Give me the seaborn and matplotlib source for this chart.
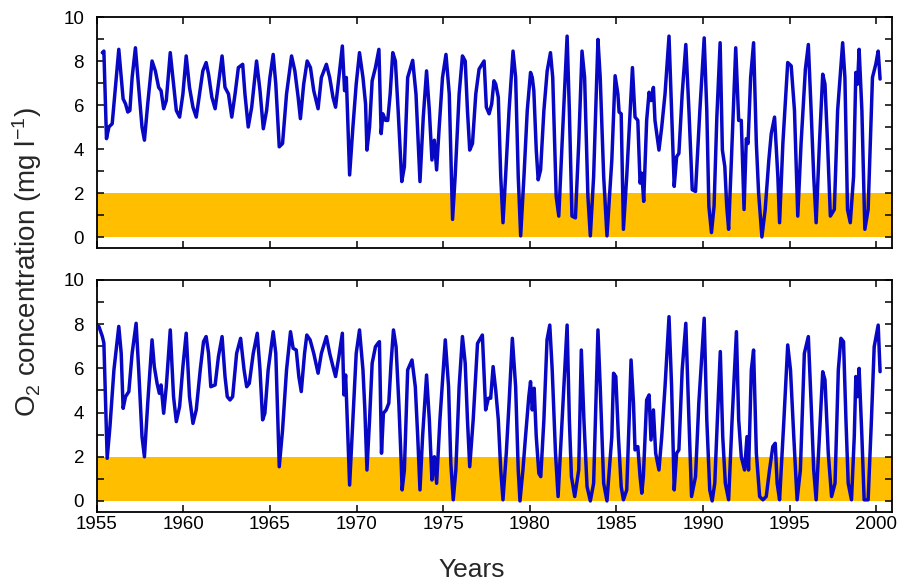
import matplotlib
matplotlib.use("Agg")
import matplotlib.pyplot as plt
import seaborn as sns
import pandas as pd
from matplotlib.ticker import MultipleLocator

# ---------------- data ----------------
top_years = [
    1955.33, 1955.42, 1955.57, 1955.71, 1955.90, 1956.15, 1956.28, 1956.42, 1956.53, 1956.67, 1956.80, 1956.92,
    1957.05, 1957.24, 1957.38, 1957.62, 1957.76, 1957.95, 1958.20, 1958.39, 1958.58, 1958.72, 1958.87,
    1959.02, 1959.25, 1959.44, 1959.60, 1959.79, 1959.98, 1960.17, 1960.36, 1960.56, 1960.75, 1960.94,
    1961.13, 1961.32, 1961.46, 1961.65, 1961.84, 1962.03, 1962.24, 1962.41, 1962.61, 1962.80, 1962.99,
    1963.18, 1963.43, 1963.56, 1963.75, 1963.95, 1964.23, 1964.43, 1964.62, 1964.81, 1965.00, 1965.19,
    1965.34, 1965.54, 1965.73, 1965.96, 1966.25, 1966.44, 1966.63, 1966.76, 1966.95, 1967.15, 1967.34,
    1967.53, 1967.78, 1967.97, 1968.26, 1968.45, 1968.64, 1968.79, 1968.98, 1969.18, 1969.31, 1969.41, 1969.60,
    1969.79, 1969.98, 1970.17, 1970.37, 1970.52, 1970.60, 1970.75, 1970.90, 1971.09, 1971.29, 1971.42, 1971.52, 1971.67, 1971.80, 1971.94,
    1972.09, 1972.24, 1972.40, 1972.61, 1972.76, 1972.95, 1973.24, 1973.43, 1973.66, 1973.85, 1974.04, 1974.20, 1974.35, 1974.49, 1974.62, 1974.77, 1974.96,
    1975.16, 1975.35, 1975.54, 1975.69, 1975.92, 1976.11, 1976.27, 1976.40, 1976.53, 1976.69, 1976.88, 1977.07, 1977.36, 1977.49, 1977.65, 1977.80, 1977.93,
    1978.03, 1978.18, 1978.32, 1978.45, 1978.60, 1978.80, 1979.03, 1979.18, 1979.33, 1979.47, 1979.66, 1979.85, 1980.04, 1980.14, 1980.23, 1980.37, 1980.48, 1980.62, 1980.81,
    1981.00, 1981.19, 1981.32, 1981.52, 1981.67, 1981.86, 1982.15, 1982.28, 1982.43, 1982.63, 1982.82, 1983.01, 1983.16, 1983.35, 1983.49, 1983.68, 1983.93,
    1984.06, 1984.26, 1984.45,
    1984.73, 1984.92, 1985.08, 1985.15, 1985.27, 1985.40, 1985.59, 1985.79, 1985.92, 1986.07, 1986.23, 1986.36, 1986.46, 1986.57, 1986.74, 1986.88, 1986.99,
    1987.13, 1987.22, 1987.45, 1987.61, 1987.80, 1988.03, 1988.18, 1988.33, 1988.47, 1988.60, 1988.79, 1989.00, 1989.18, 1989.37, 1989.56, 1989.81,
    1990.06, 1990.21, 1990.33, 1990.48, 1990.63, 1990.79, 1990.98, 1991.11, 1991.25, 1991.36, 1991.47, 1991.63, 1991.88, 1992.05, 1992.20, 1992.36, 1992.49, 1992.59, 1992.74, 1992.91,
    1993.07, 1993.20, 1993.39, 1993.58, 1993.79, 1993.93, 1994.12, 1994.31, 1994.41, 1994.60, 1994.88, 1995.08, 1995.27, 1995.46, 1995.65, 1995.90,
    1996.07, 1996.23, 1996.38, 1996.52, 1996.71, 1996.90, 1997.03, 1997.18, 1997.34, 1997.57, 1997.76, 1998.05, 1998.18, 1998.33, 1998.49, 1998.68, 1998.81, 1998.91,
    1999.00, 1999.16, 1999.33, 1999.52, 1999.77, 1999.96, 2000.10, 2000.21,
]
top_o2 = [
    8.38, 8.45, 4.47, 5.00, 5.15, 7.40, 8.53, 7.25, 6.28, 6.05, 5.68, 5.75,
    7.25, 8.60, 7.25, 5.00, 4.40, 6.05, 8.00, 7.55, 6.80, 6.65, 5.83,
    6.20, 8.38, 6.95, 5.75, 5.45, 6.50, 8.23, 6.80, 5.90, 5.45, 6.50,
    7.55, 7.93, 7.40, 6.35, 5.83, 6.95, 8.23, 6.80, 6.50, 5.45, 6.50,
    7.70, 7.85, 6.50, 5.00, 5.90, 8.00, 6.65, 4.92, 5.75, 7.25, 8.30,
    6.95, 4.10, 4.25, 6.50, 8.23, 7.55, 6.35, 5.38, 6.95, 8.00, 7.70,
    6.65, 5.83, 7.25, 7.85, 7.25, 6.35, 5.90, 7.25, 8.68, 6.65, 7.25, 2.82,
    5.00, 6.95, 8.38, 7.25, 6.05, 3.95, 5.00, 7.10, 7.70, 8.53, 4.70, 5.60, 5.30, 5.30, 6.50,
    8.38, 8.00, 5.75, 2.52, 3.20, 7.25, 8.03, 6.50, 2.52, 5.45, 7.55, 5.75, 3.50, 4.40, 3.05, 5.00, 7.25,
    8.30, 6.50, 0.80, 2.75, 6.50, 8.23, 8.00, 5.75, 3.95, 4.25, 6.50, 7.63, 8.00, 5.90, 5.60, 6.05, 7.10,
    6.95, 6.35, 2.75, 0.65, 2.75, 5.75, 8.45, 7.25, 2.75, 0.05, 2.75, 5.75, 7.48, 7.25, 6.65, 3.95, 2.60, 3.05, 5.75,
    7.55, 8.38, 7.25, 1.85, 0.95, 4.25, 9.13, 5.75, 0.95, 0.87, 4.25, 8.45, 7.25, 1.85, 0.05, 2.75, 8.98,
    7.25, 2.75, 0.05,
    3.50, 7.33, 6.50, 5.68, 5.60, 0.35, 2.75, 5.75, 7.70, 5.45, 5.30, 2.45, 2.90, 1.62, 5.30, 6.58, 6.20,
    6.80, 5.30, 3.95, 5.00, 6.50, 9.13, 5.75, 2.30, 3.65, 3.80, 6.50, 8.75, 5.75, 2.15, 2.07, 5.75,
    9.05, 5.75, 1.40, 0.20, 1.40, 5.45, 8.83, 3.95, 3.20, 1.40, 0.35, 3.50, 8.60, 5.30, 5.30, 1.25, 4.47, 4.25, 7.25, 8.83,
    4.25, 2.00, 0.00, 1.25, 3.50, 4.70, 5.45, 2.75, 0.65, 4.25, 7.93, 7.78, 5.75, 0.95, 4.25, 7.63,
    8.75, 5.75, 2.75, 0.65, 4.25, 7.40, 6.95, 4.25, 0.95, 1.25, 5.75, 8.83, 7.25, 1.25, 0.65, 2.75, 7.48, 6.95,
    8.53, 5.75, 0.35, 1.25, 7.25, 7.85, 8.45, 7.18,
]

bottom_years = [
    1955.13, 1955.33, 1955.42, 1955.61, 1955.77, 1956.00, 1956.28, 1956.42, 1956.53, 1956.67, 1956.86,
    1957.05, 1957.28, 1957.43, 1957.62, 1957.76, 1957.95, 1958.20, 1958.33, 1958.49, 1958.62, 1958.72, 1958.87,
    1959.02, 1959.25, 1959.44, 1959.60, 1959.79, 1959.98, 1960.17, 1960.36, 1960.56, 1960.75, 1960.98,
    1961.17, 1961.32, 1961.46, 1961.59, 1961.84, 1962.03, 1962.24, 1962.41, 1962.54, 1962.70, 1962.85,
    1963.08, 1963.31, 1963.51, 1963.66, 1963.81, 1964.04, 1964.27, 1964.43, 1964.58, 1964.71, 1964.90,
    1965.19, 1965.34, 1965.54, 1965.73, 1965.96, 1966.19, 1966.34, 1966.52, 1966.67, 1966.81, 1967.00,
    1967.13, 1967.32, 1967.53, 1967.78, 1967.97, 1968.26, 1968.45, 1968.64, 1968.79, 1968.98, 1969.18, 1969.27, 1969.37, 1969.60,
    1969.79, 1969.98, 1970.17, 1970.37, 1970.48, 1970.60, 1970.75, 1970.90, 1971.09, 1971.23, 1971.32, 1971.44, 1971.55, 1971.71, 1971.86, 1971.99,
    1972.13, 1972.28, 1972.44, 1972.57, 1972.63, 1972.76, 1972.95, 1973.20, 1973.39, 1973.53, 1973.66, 1973.81, 1974.04, 1974.20, 1974.35, 1974.49, 1974.62, 1974.81,
    1975.12, 1975.31, 1975.44, 1975.58, 1975.73, 1975.92, 1976.11, 1976.27, 1976.40, 1976.53, 1976.73, 1976.98, 1977.26, 1977.45, 1977.61, 1977.74, 1977.88,
    1978.03, 1978.18, 1978.32, 1978.45, 1978.64, 1978.80, 1978.99, 1979.18, 1979.33, 1979.43, 1979.60, 1979.75, 1979.94, 1980.04, 1980.14, 1980.25, 1980.37, 1980.52, 1980.63, 1980.81,
    1980.99, 1981.15, 1981.29, 1981.48, 1981.63, 1981.86, 1982.15, 1982.28, 1982.40, 1982.59, 1982.82, 1982.97, 1983.12, 1983.30, 1983.49, 1983.68, 1983.93,
    1984.06, 1984.26, 1984.45,
    1984.73, 1984.83, 1984.96, 1985.11, 1985.27, 1985.40, 1985.59, 1985.73, 1985.84, 1985.98, 1986.07, 1986.23, 1986.36, 1986.46, 1986.55, 1986.74, 1986.88, 1986.99,
    1987.13, 1987.26, 1987.45, 1987.61, 1987.80, 1988.03, 1988.18, 1988.33, 1988.47, 1988.60, 1988.79, 1989.00, 1989.18, 1989.33, 1989.56, 1989.75,
    1990.06, 1990.21, 1990.38, 1990.52, 1990.67, 1990.82, 1990.99, 1991.13, 1991.28, 1991.47, 1991.67, 1991.92, 1992.05, 1992.20, 1992.39, 1992.53, 1992.62, 1992.78, 1992.91,
    1993.07, 1993.26, 1993.45, 1993.64, 1993.83, 1994.02, 1994.16, 1994.27, 1994.41, 1994.66, 1994.88, 1995.04, 1995.23, 1995.42, 1995.61, 1995.84,
    1996.07, 1996.23, 1996.38, 1996.52, 1996.71, 1996.90, 1997.03, 1997.22, 1997.41, 1997.61, 1997.80, 1997.95, 1998.10, 1998.24, 1998.37, 1998.56, 1998.72, 1998.81, 1998.91,
    1999.00, 1999.16, 1999.29, 1999.52, 1999.71, 1999.87, 2000.10, 2000.21,
]
bottom_o2 = [
    7.90, 7.45, 7.15, 1.93, 3.36, 5.93, 7.90, 6.68, 4.19, 4.72, 4.95,
    6.68, 8.04, 5.93, 2.91, 2.00, 4.42, 7.29, 6.08, 5.32, 4.87, 5.25, 3.97,
    5.17, 7.74, 4.72, 3.59, 4.27, 6.08, 7.59, 4.72, 3.51, 4.12, 5.93,
    7.21, 7.44, 6.68, 5.17, 5.25, 6.53, 7.44, 5.63, 4.72, 4.57, 4.72,
    6.68, 7.36, 5.93, 5.17, 5.32, 6.68, 7.59, 5.93, 3.67, 3.97, 5.93,
    7.66, 6.68, 1.55, 3.21, 5.93, 7.66, 6.91, 6.83, 5.63, 4.95, 6.68,
    7.51, 7.29, 6.68, 5.78, 6.68, 7.44, 6.68, 6.08, 5.63, 6.53, 7.59, 4.80, 5.70, 0.72,
    3.67, 6.68, 7.74, 5.93, 4.12, 1.40, 3.67, 6.23, 6.98, 7.13, 7.21, 2.16, 3.97, 4.12, 4.42, 6.23,
    7.74, 6.98, 4.42, 1.86, 0.50, 1.40, 5.93, 6.38, 5.17, 2.91, 0.50, 2.91, 5.70, 3.67, 0.95, 2.00, 0.80, 3.67,
    7.29, 5.17, 1.70, 0.05, 1.40, 5.17, 7.44, 6.23, 3.67, 1.55, 3.67, 7.13, 7.51, 4.12, 4.65, 4.65, 6.08,
    5.02, 3.67, 1.40, 0.05, 2.16, 4.42, 7.36, 5.17, 1.40, 0.00, 1.40, 2.91, 4.72, 5.40, 4.12, 5.10, 2.91, 1.25, 1.10, 3.67,
    7.29, 7.96, 5.93, 2.16, 0.20, 3.67, 7.96, 3.67, 1.10, 0.20, 1.40, 6.83, 3.67, 0.65, 0.00, 0.80, 7.74,
    5.17, 0.80, 0.00,
    2.91, 5.78, 5.63, 2.91, 0.65, 0.05, 0.50, 3.67, 6.38, 4.42, 2.31, 2.46, 1.10, 0.35, 1.10, 4.57, 4.80, 2.76,
    4.12, 2.16, 1.40, 2.91, 5.17, 8.34, 5.17, 0.50, 2.16, 2.31, 5.93, 8.04, 3.67, 0.20, 1.10, 4.42,
    8.27, 3.67, 0.50, 0.00, 0.80, 3.67, 6.76, 2.91, 0.80, 0.05, 3.67, 7.66, 3.67, 2.00, 1.40, 2.91, 1.40, 5.93, 6.83,
    2.16, 0.20, 0.05, 0.20, 1.40, 2.46, 2.61, 0.80, 0.05, 3.67, 7.06, 5.93, 2.91, 0.05, 1.40, 6.68,
    7.44, 4.42, 1.40, 0.05, 2.91, 5.85, 5.48, 2.16, 0.20, 0.80, 5.93, 7.36, 7.21, 3.67, 0.80, 0.05, 2.91, 5.63, 4.72,
    6.00, 2.91, 0.05, 0.05, 3.67, 6.98, 7.96, 5.85,
]

threshold_band = (0, 2)
x_ticks = [1955, 1960, 1965, 1970, 1975, 1980, 1985, 1990, 1995, 2000]
y_ticks = [0, 2, 4, 6, 8, 10]

# ---------------- styling ----------------
sns.set_style("ticks")
plt.rcParams["font.family"] = ["Liberation Sans", "DejaVu Sans"]
plt.rcParams["mathtext.fontset"] = "custom"
plt.rcParams["mathtext.rm"] = "Liberation Sans"
plt.rcParams["mathtext.it"] = "Liberation Sans:italic"

LINE_COLOR = "#0808C4"
BAND_COLOR = "#FFBF00"

fig = plt.figure(figsize=(8.99, 5.83), dpi=100)
W, H = 899, 583
left, right = 96.6 / W, 891.7 / W
ax_top = fig.add_axes([left, 1 - 248 / H, right - left, (248 - 17) / H])
ax_bot = fig.add_axes([left, 1 - 512 / H, right - left, (512 - 280) / H])

panels = [(ax_top, top_years, top_o2), (ax_bot, bottom_years, bottom_o2)]
for ax, yrs, vals in panels:
    df = pd.DataFrame({"year": yrs, "o2": vals})
    ax.axhspan(threshold_band[0], threshold_band[1], color=BAND_COLOR, lw=0, zorder=0)
    sns.lineplot(data=df, x="year", y="o2", ax=ax, sort=False, estimator=None,
                 color=LINE_COLOR, linewidth=2.5, zorder=3,
                 solid_joinstyle="round", solid_capstyle="round")
    ax.set_xlim(1955, 2000.88)
    ax.set_ylim(-0.5, 10)
    ax.set_xticks(x_ticks)
    ax.set_yticks(y_ticks)
    ax.yaxis.set_minor_locator(MultipleLocator(1))
    ax.tick_params(axis="both", which="both", direction="in", top=True, right=True,
                   length=5, width=1.1, colors="black", labelsize=13.5)
    ax.tick_params(axis="y", pad=9)
    ax.tick_params(axis="x", pad=3)
    ax.set_xlabel("")
    ax.set_ylabel("")
    for sp in ax.spines.values():
        sp.set_visible(True)
        sp.set_linewidth(1.3)
        sp.set_color("black")

ax_top.tick_params(axis="x", labelbottom=False)

fig.text(27 / W, 1 - 262 / H, "O$_2$ concentration (mg l$^{-1}$)", rotation=90,
         ha="center", va="center", fontsize=20)
fig.text(472 / W, 1 - 570 / H, "Years", ha="center", va="center", fontsize=19)

fig.savefig("out.png", dpi=100)
